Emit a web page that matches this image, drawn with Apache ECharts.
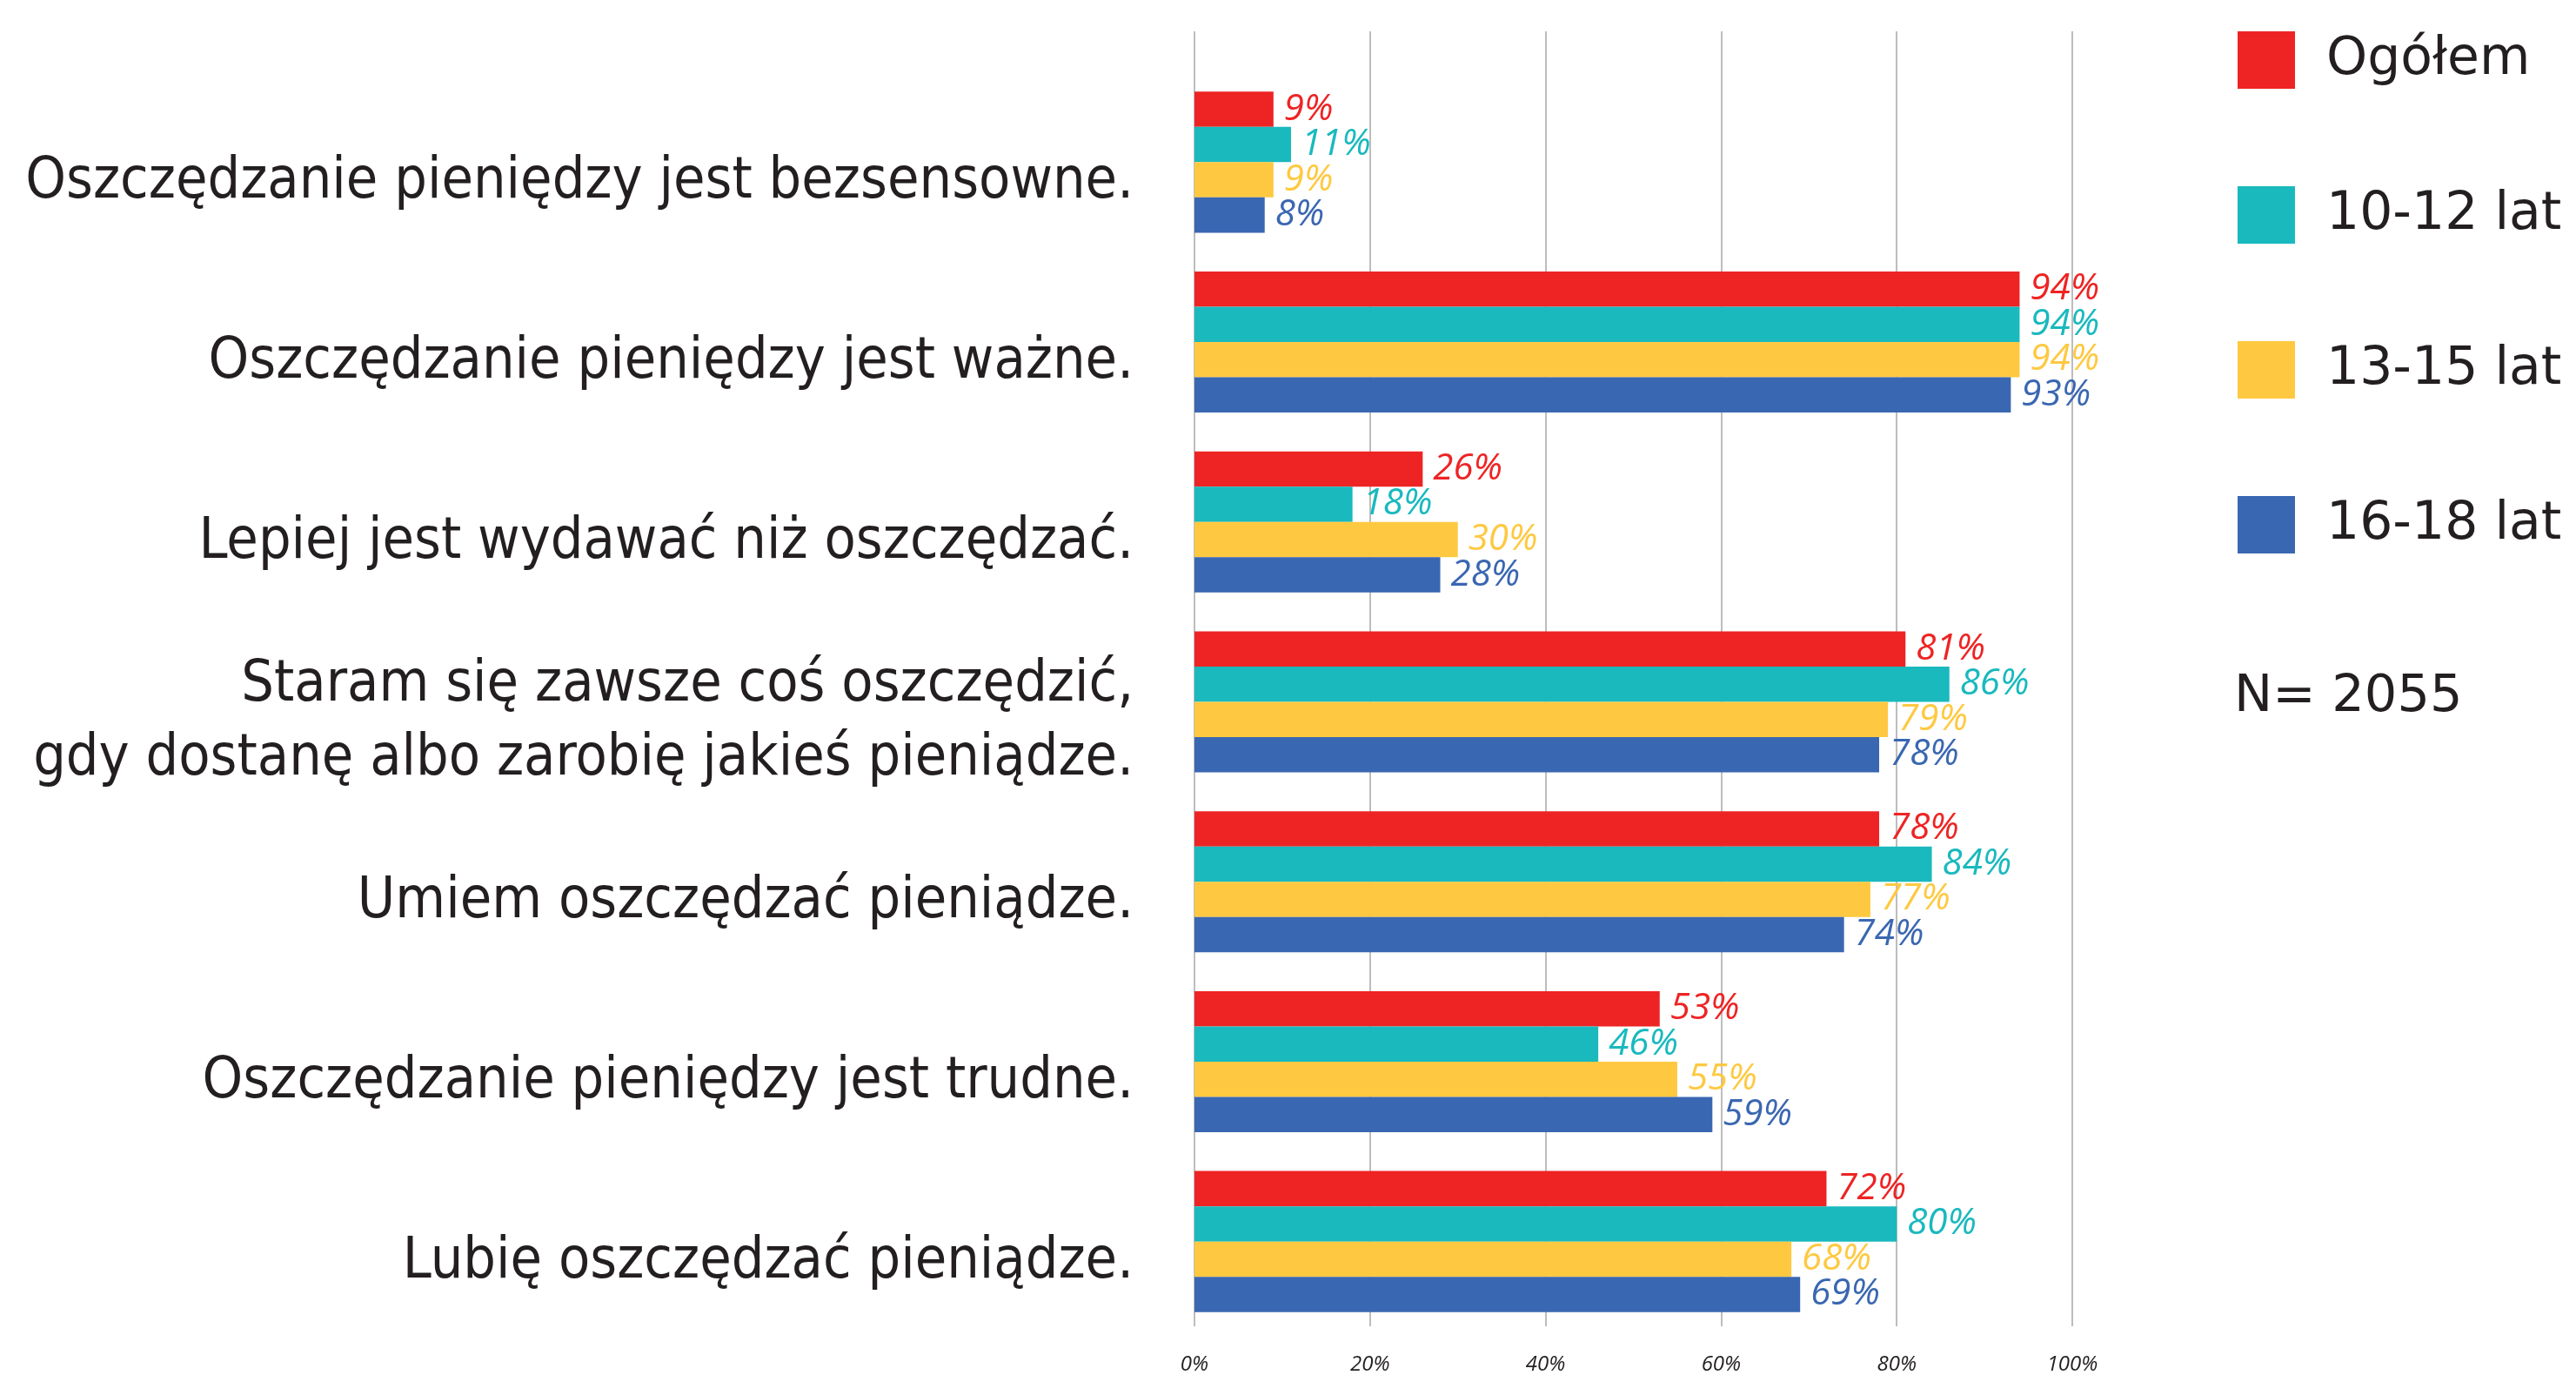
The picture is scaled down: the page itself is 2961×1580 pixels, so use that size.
<!DOCTYPE html>
<html>
<head>
<meta charset="utf-8">
<script src="https://cdn.jsdelivr.net/npm/echarts@6/dist/echarts.min.js"></script>
<style>
  html, body { margin: 0; padding: 0; background: #fff; }
  #chart { width: 2961px; height: 1580px; }
</style>
</head>
<body>
<div id="chart"></div>
<script>
// kategorie (od góry)
const categories = [
  'Oszczędzanie pieniędzy jest bezsensowne.',
  'Oszczędzanie pieniędzy jest ważne.',
  'Lepiej jest wydawać niż oszczędzać.',
  'Staram się zawsze coś oszczędzić,\ngdy dostanę albo zarobię jakieś pieniądze.',
  'Umiem oszczędzać pieniądze.',
  'Oszczędzanie pieniędzy jest trudne.',
  'Lubię oszczędzać pieniądze.'
]

// wartości w %
const ogolem = [9, 94, 26, 81, 78, 53, 72]
const lat10_12 = [11, 94, 18, 86, 84, 46, 80]
const lat13_15 = [9, 94, 30, 79, 77, 55, 68]
const lat16_18 = [8, 93, 28, 78, 74, 59, 69]

const seriesNames = ['Ogółem', '10-12 lat', '13-15 lat', '16-18 lat']
const colors = ['#EE2424', '#19B9BE', '#FEC941', '#3A67B1']
const sampleNote = 'N= 2055'

const chart = echarts.init(document.getElementById('chart'))

function barSeries (name, data, color) {
  return {
    type: 'bar',
    name: name,
    data: data,
    xAxisIndex: 0,
    yAxisIndex: 0,
    barGap: '0%',
    barCategoryGap: '21.6%',
    itemStyle: { color: color },
    label: {
      show: true,
      position: 'right',
      distance: 12,
      formatter: '{c}%',
      color: color,
      fontSize: 42,
      fontStyle: 'italic',
      fontFamily: 'Open Sans'
    }
  }
}

const allData = [ogolem, lat10_12, lat13_15, lat16_18]

chart.setOption({
  animation: false,
  color: colors,
  title: {
    text: sampleNote,
    left: 2563,
    top: 767,
    textStyle: {
      fontSize: 59,
      fontWeight: 'normal',
      color: '#231f20',
      fontFamily: 'DejaVu Sans'
    }
  },
  legend: {
    orient: 'vertical',
    left: 2567,
    top: 31,
    icon: 'rect',
    itemWidth: 66,
    itemHeight: 66,
    itemGap: 112,
    data: seriesNames,
    textStyle: {
      fontSize: 60,
      color: '#231f20',
      fontFamily: 'DejaVu Sans',
      padding: [0, 0, 0, 31]
    }
  },
  grid: [
    // słupki
    { left: 1373, width: 1009, top: 83, height: 1447 },
    // linie siatki i podpisy osi X
    { left: 1373, width: 1009, top: 36, height: 1491 },
    // podpisy kategorii (przesunięte lekko w dół)
    { left: 1373, width: 1009, top: 107, height: 1447 }
  ],
  xAxis: [
    { type: 'value', gridIndex: 0, min: 0, max: 100, show: false },
    {
      type: 'value',
      gridIndex: 1,
      min: 0,
      max: 100,
      interval: 20,
      position: 'bottom',
      axisLine: { show: false },
      axisTick: { show: false },
      splitLine: { show: true, lineStyle: { color: '#bdbdbd', width: 2 } },
      axisLabel: {
        formatter: '{value}%',
        fontSize: 24,
        fontStyle: 'italic',
        color: '#231f20',
        fontFamily: 'Open Sans',
        margin: 32
      }
    },
    { type: 'value', gridIndex: 2, min: 0, max: 100, show: false }
  ],
  yAxis: [
    {
      type: 'category',
      gridIndex: 0,
      inverse: true,
      data: categories,
      axisLine: { show: false },
      axisTick: { show: false },
      axisLabel: { show: false }
    },
    { type: 'value', gridIndex: 1, min: 0, max: 1, show: false },
    {
      type: 'category',
      gridIndex: 2,
      inverse: true,
      data: categories,
      axisLine: { show: false },
      axisTick: { show: false },
      axisLabel: {
        fontSize: 66,
        color: '#231f20',
        fontFamily: 'DejaVu Sans Condensed',
        margin: 70,
        lineHeight: 85
      }
    }
  ],
  series: [
    ...seriesNames.map((n, i) => barSeries(n, allData[i], colors[i])),
    { type: 'scatter', xAxisIndex: 1, yAxisIndex: 1, data: [], silent: true },
    { type: 'scatter', xAxisIndex: 2, yAxisIndex: 2, data: [], silent: true }
  ]
})
</script>
</body>
</html>
